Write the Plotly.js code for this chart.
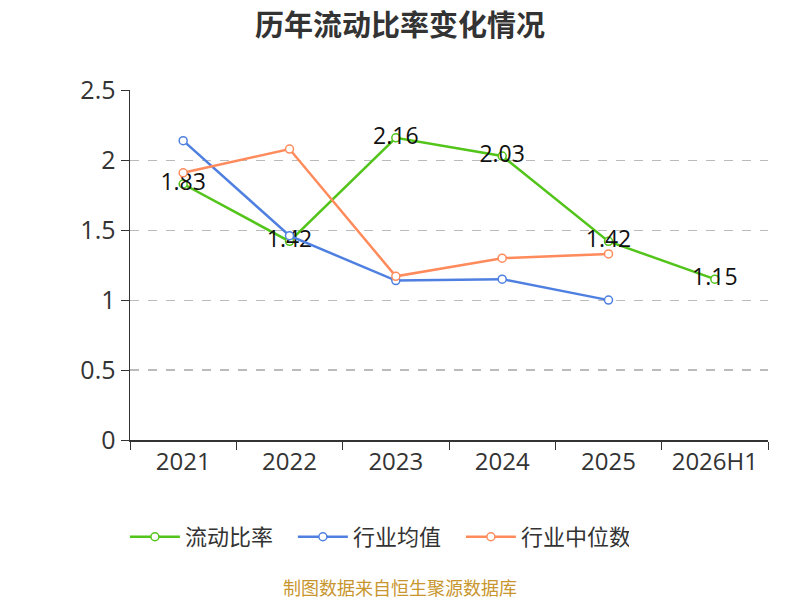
<!DOCTYPE html>
<html>
<head>
<meta charset="utf-8">
<script src="https://cdn.plot.ly/plotly-3.0.1.min.js"></script>
<style>
  html, body { margin: 0; padding: 0; background: #fff; }
  #chart { width: 800px; height: 600px; }
</style>
</head>
<body>
<div id="chart"></div>
<script>
const years = ['2021', '2022', '2023', '2024', '2025', '2026H1'];
const currentRatio = [1.83, 1.42, 2.16, 2.03, 1.42, 1.15];
const industryMean = [2.14, 1.46, 1.14, 1.15, 1.00];
const industryMedian = [1.91, 2.08, 1.17, 1.30, 1.33];

const fontFamily = '"Open Sans", "Noto Sans CJK SC", sans-serif';
const cjkFamily = '"Noto Sans CJK SC", sans-serif';

function lineTrace(name, y, color, withText) {
    const t = {
        x: years.slice(0, y.length),
        y: y,
        name: name,
        type: 'scatter',
        mode: withText ? 'lines+markers+text' : 'lines+markers',
        line: { color: color, width: 2.5 },
        marker: {
            symbol: 'circle',
            size: 8,
            color: '#fff',
            line: { color: color, width: 1.5 },
        },
        cliponaxis: false,
        hoverinfo: 'x+y',
    };
    if (withText) {
        t.text = y.map(v => v.toFixed(2));
        t.textposition = 'middle center';
        t.textfont = { size: 23, color: '#111', family: fontFamily };
    }
    return t;
}

const data = [
    lineTrace('流动比率', currentRatio, '#52c41a', true),
    lineTrace('行业均值', industryMean, '#4f80e1', false),
    lineTrace('行业中位数', industryMedian, '#ff8b5c', false),
];

const layout = {
    width: 800,
    height: 600,
    margin: { l: 130, r: 32, t: 90, b: 160 },
    paper_bgcolor: '#fff',
    plot_bgcolor: '#fff',
    font: { family: fontFamily, color: '#333' },
    title: {
        text: '<b>历年流动比率变化情况</b>',
        font: { size: 29, color: '#333', family: cjkFamily },
        x: 0.5,
        xanchor: 'center',
        y: 0.957,
        yanchor: 'middle',
    },
    xaxis: {
        type: 'category',
        range: [-0.5, 5.5],
        tickson: 'boundaries',
        ticks: 'outside',
        ticklen: 8,
        tickcolor: '#333',
        showline: true,
        linecolor: '#333',
        linewidth: 1.5,
        showgrid: false,
        tickfont: { size: 24, color: '#333' },
        fixedrange: true,
    },
    yaxis: {
        range: [0, 2.502],
        tickvals: [0, 0.5, 1, 1.5, 2, 2.5],
        ticktext: ['0', '0.5', '1', '1.5', '2', '2.5'],
        ticks: 'outside',
        ticklen: 8,
        tickcolor: '#333',
        showline: true,
        linecolor: '#333',
        linewidth: 1.5,
        showgrid: true,
        gridcolor: '#bbbbbb',
        gridwidth: 1.2,
        griddash: 'dash',
        zeroline: false,
        tickfont: { size: 25, color: '#333' },
        fixedrange: true,
    },
    showlegend: true,
    legend: {
        orientation: 'h',
        x: -0.008,
        xanchor: 'left',
        y: -0.277,
        yanchor: 'middle',
        font: { size: 22, color: '#333', family: cjkFamily },
        entrywidth: 103,
        entrywidthmode: 'pixels',
        itemwidth: 50,
    },
    annotations: [{
        text: '制图数据来自恒生聚源数据库',
        xref: 'paper',
        yref: 'paper',
        x: 0.423,
        y: -0.42,
        xanchor: 'center',
        yanchor: 'middle',
        showarrow: false,
        font: { size: 18, color: '#c8962e', family: cjkFamily },
    }],
};

Plotly.newPlot('chart', data, layout, { displayModeBar: false, staticPlot: true });
</script>
</body>
</html>
